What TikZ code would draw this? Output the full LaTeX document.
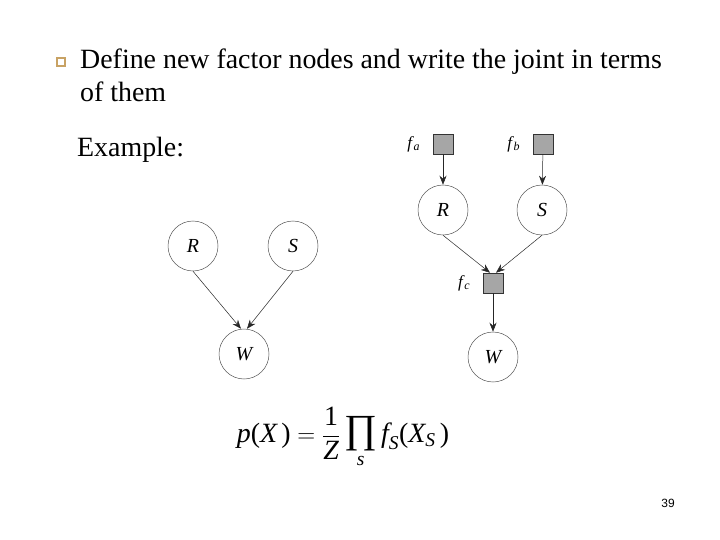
\documentclass[tikz,border=0pt]{standalone}
\usepackage{amsmath}
\usepackage{fontspec}
\setmainfont{Liberation Serif}
\newfontfamily\pagenofont{Liberation Sans}
\usepackage{tikz}
\usetikzlibrary{positioning,arrows.meta}
\definecolor{bullettan}{HTML}{C8A264}
\definecolor{factorgrey}{HTML}{A6A6A6}
\definecolor{edgegrey}{HTML}{555555}
\newcommand{\vi}[1]{\textit{#1}}
\newcommand{\fsub}[2]{\textit{#1}\kern-.5pt\raisebox{-2pt}{\fontsize{12}{12}\selectfont\textit{#2}}}

\begin{document}
\begin{tikzpicture}[x=1bp,y=-1bp, every node/.style={inner sep=0pt},
  varnode/.style={circle,draw=edgegrey,line width=.5pt,minimum size=50bp,font=\fontsize{20}{20}\selectfont\itshape},
  factornode/.style={rectangle,draw=black!80,line width=.5pt,fill=factorgrey,minimum size=20bp},
  flabel/.style={font=\fontsize{17}{17}\selectfont},
  slidetext/.style={font=\fontsize{28}{33}\selectfont},
  link/.style={-{Stealth[length=9bp,width=7bp]},draw=black!85,line width=.5pt}]
\useasboundingbox (0,0) rectangle (720,540);
% heading text
\node[draw=bullettan,line width=1.2pt,minimum size=8bp] (bullet) at (61,62) {};
\node[slidetext,anchor=base west] (intro) at (80,69) {Define new factor nodes and write the joint in terms};
\node[slidetext,anchor=base west] (intro2) at (80,102) {of them};
\node[slidetext,anchor=base west] (example) at (77,157) {Example:};
% directed graph
\node[varnode] (r1) at (193,246) {R};
\node[varnode] (s1) at (293,246) {S};
\node[varnode] (w1) at (244,354) {W};
\draw[link] (r1.south) -- ([xshift=-3bp]w1.north);
\draw[link] (s1.south) -- ([xshift=3bp]w1.north);
% factor graph
\node[factornode] (fa) at (443,144) {};
\node[factornode] (fb) at (543,144) {};
\node[varnode] (r2) at (443,210) {R};
\node[varnode] (s2) at (542,210) {S};
\node[factornode] (fc) at (493,283) {};
\node[varnode] (w2) at (493,357) {W};
\node[flabel,left=13bp of fa] (fal) {\fsub{f}{a}};
\node[flabel,left=13bp of fb] (fbl) {\fsub{f}{b}};
\node[flabel,left=13bp of fc] (fcl) {\fsub{f}{c}};
\draw[link] (fa) -- (r2); \draw[link] (fb) -- (s2);
\draw[link] (r2.south) -- ([xshift=-3bp]fc.north);
\draw[link] (s2.south) -- ([xshift=3bp]fc.north);
\draw[link] (fc) -- (w2);
% joint
\node[font=\fontsize{28}{28}\selectfont] (joint) at (343,438) {$\displaystyle\vi{p}\textup{(}\vi{X}\,\textup{)}=\frac{\textup{1}}{\vi{Z}}\mathop{\textup{\fontsize{40}{40}\selectfont ∏}}\limits_{\vi{s}} \vi{f}_{\vi{S}}\textup{(}\vi{X}_{\vi{S}}\,\textup{)}$};
\node[font=\pagenofont\fontsize{12}{12}\selectfont] (pageno) at (668,503) {39};
\end{tikzpicture}
\end{document}
